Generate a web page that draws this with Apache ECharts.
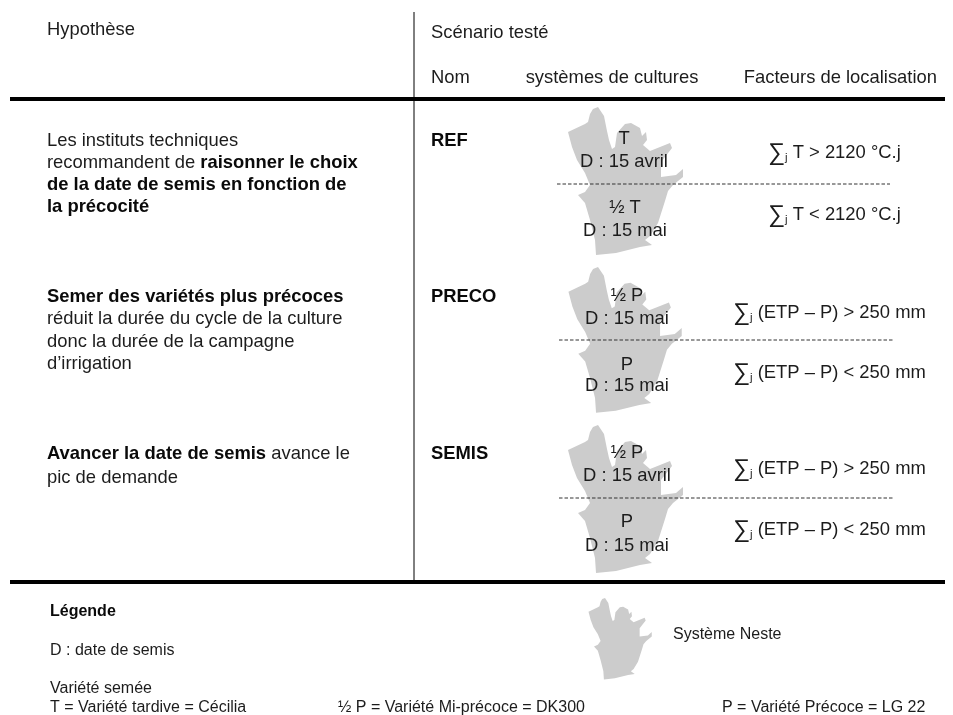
<!DOCTYPE html>
<html><head><meta charset="utf-8">
<style>html,body{margin:0;padding:0;background:#fff}#c{width:953px;height:715px}</style>
<script src="https://cdn.jsdelivr.net/npm/echarts@6/dist/echarts.min.js"></script>
</head><body><div id="c"></div>
<script>
// Text rows: [x, y, align, style, text] ; "**" toggles bold, "_j_" subscript, "~" big sigma
const headerRows = [
 [47,29,'left','m','Hypothèse'],[431,32,'left','m','Scénario testé'],
 [431,77,'left','m','Nom'],[612,77,'center','m','systèmes de cultures'],[937,77,'right','m','Facteurs de localisation']
];
const hypothesisRows = [
 [47,140,'left','m','Les instituts techniques'],
 [47,162,'left','m','recommandent de **raisonner le choix**'],
 [47,184,'left','m','**de la date de semis en fonction de**'],
 [47,206,'left','m','**la précocité**'],
 [47,296,'left','m','**Semer des variétés plus précoces**'],
 [47,318,'left','m','réduit la durée du cycle de la culture'],
 [47,341,'left','m','donc la durée de la campagne'],
 [47,363,'left','m','d’irrigation'],
 [47,453,'left','m','**Avancer la date de semis** avance le'],
 [47,477,'left','m','pic de demande']
];
const scenarioNames = [
 [431,140,'left','m','**REF**'],[431,296,'left','m','**PRECO**'],[431,453,'left','m','**SEMIS**']
];
const systemLabels = [
 [624,138,'center','m','T'],[624,161,'center','m','D : 15 avril'],
 [625,207,'center','m','½ T'],[625,230,'center','m','D : 15 mai'],
 [627,295,'center','m','½ P'],[627,318,'center','m','D : 15 mai'],
 [627,364,'center','m','P'],[627,385,'center','m','D : 15 mai'],
 [627,452,'center','m','½ P'],[627,475,'center','m','D : 15 avril'],
 [627,521,'center','m','P'],[627,545,'center','m','D : 15 mai']
];
const factorLabels = [
 [768,152,'left','m','~∑~_j_ T > 2120 °C.j'],[768,214,'left','m','~∑~_j_ T < 2120 °C.j'],
 [733,312,'left','m','~∑~_j_ (ETP – P) > 250 mm'],[733,372,'left','m','~∑~_j_ (ETP – P) < 250 mm'],
 [733,468,'left','m','~∑~_j_ (ETP – P) > 250 mm'],[733,529,'left','m','~∑~_j_ (ETP – P) < 250 mm']
];
const legendRows = [
 [50,611,'left','s','**Légende**'],[50,650,'left','s','D : date de semis'],
 [50,688,'left','s','Variété semée'],[50,707,'left','s','T = Variété tardive = Cécilia'],
 [338,707,'left','s','½ P = Variété Mi-précoce = DK300'],[722,707,'left','s','P = Variété Précoce = LG 22'],
 [673,634,'left','s','Système Neste']
];
// Rules: [x1, y1, x2, y2]
const solidThick = [[10,99,945,99],[10,582,945,582]];
const solidThin = [[414,12,414,582]];
const dashed = [[557,184,890,184],[559,340,893,340],[559,498,893,498]];
// Neste territory outline (traced, reference-scale pixels from its top point)
const nesteOutline = [[0,0],[6,9],[9,24],[11,33],[14,42],[17,40],[19,26],[27,17],[33,16],[42,21],[44,29],[48,25],[49,33],[45,38],[52,44],[72,36],[74,41],[63,55],[63,70],[78,68],[85,62],[85,70],[75,78],[70,84],[67,94],[60,116],[52,129],[47,133],[54,138],[42,140],[18,146],[-2,148],[-3,133],[-8,113],[-13,96],[-20,88],[-13,85],[-8,78],[-13,66],[-21,53],[-26,40],[-30,25],[-13,17],[-10,15],[-8,7],[-5,2]];
// Map placements: [x, y, scale]
const nesteMaps = [[598,107,1],[598,267,0.985],[598,425,1.0],[605,598,0.55]];
const allText = [].concat(headerRows,hypothesisRows,scenarioNames,systemLabels,factorLabels,legendRows);

const FONT = '"Liberation Sans", Arial, sans-serif';
const sizes = {m:18.4,s:16};
function fmt(r){
  const k=r[3]; let out='';
  r[4].split('**').forEach((p,i)=>{
    p.split('~').forEach((t,h)=>{
      if(h%2){ if(t) out+='{sum'+k+'|'+t+'}'; return; }
      t.split('_').forEach((q,j)=>{
        if(!q) return;
        const st = j%2 ? 'sub'+k : (i%2 ? 'b'+k : 'n'+k);
        out+='{'+st+'|'+q+'}';
      });
    });
  });
  return out;
}
const rich={};
['m','s'].forEach(k=>{
  rich['n'+k]={fontFamily:FONT,fontSize:sizes[k],color:'#1c1c1c'};
  rich['b'+k]={fontFamily:FONT,fontSize:sizes[k],fontWeight:'bold',color:'#0a0a0a'};
  rich['sum'+k]={fontFamily:FONT,fontSize:sizes[k]*1.3,color:'#1c1c1c'};
  rich['sub'+k]={fontFamily:FONT,fontSize:sizes[k]*0.62,color:'#1c1c1c',padding:[9,0,0,0]};
});
const ruleItem=(w,dash,color)=>(p,api)=>{
  const a=api.coord([api.value(0),api.value(1)]),b=api.coord([api.value(2),api.value(3)]);
  return {type:'line',shape:{x1:a[0],y1:a[1],x2:b[0],y2:b[1]},style:{stroke:color,lineWidth:w,lineDash:dash}};
};
const ruleSeries=(d,w,dash,color,z)=>({type:'custom',silent:true,z,coordinateSystem:'cartesian2d',data:d,renderItem:ruleItem(w,dash,color),encode:{x:[0,2],y:[1,3]}});
const chart=echarts.init(document.getElementById('c'),null,{renderer:'canvas'});
chart.setOption({
  animation:false,backgroundColor:'#fff',
  grid:{left:0,right:0,top:0,bottom:0},
  xAxis:{type:'value',min:0,max:953,show:false},
  yAxis:{type:'value',min:0,max:715,inverse:true,show:false},
  series:[
    {type:'custom',silent:true,z:1,data:nesteMaps,encode:{x:0,y:1},
     renderItem:(p,api)=>{
       const x0=api.value(0),y0=api.value(1),s=api.value(2);
       return {type:'polygon',shape:{points:nesteOutline.map(q=>api.coord([x0+q[0]*s,y0+q[1]*s]))},style:{fill:'#cccccc'}};
     }},
    ruleSeries(solidThick,4,null,'#000',2),
    ruleSeries(solidThin,1,null,'#000',2),
    ruleSeries(dashed,1,[3.5,2],'#333',2),
    {type:'scatter',silent:true,z:3,symbolSize:0,itemStyle:{opacity:1},data:allText.map(r=>({value:[r[0],r[1]],label:{align:r[2],formatter:fmt(r)}})),
     label:{show:true,position:'inside',offset:[0,1],verticalAlign:'middle',rich:rich}}
  ]
});
</script></body></html>
